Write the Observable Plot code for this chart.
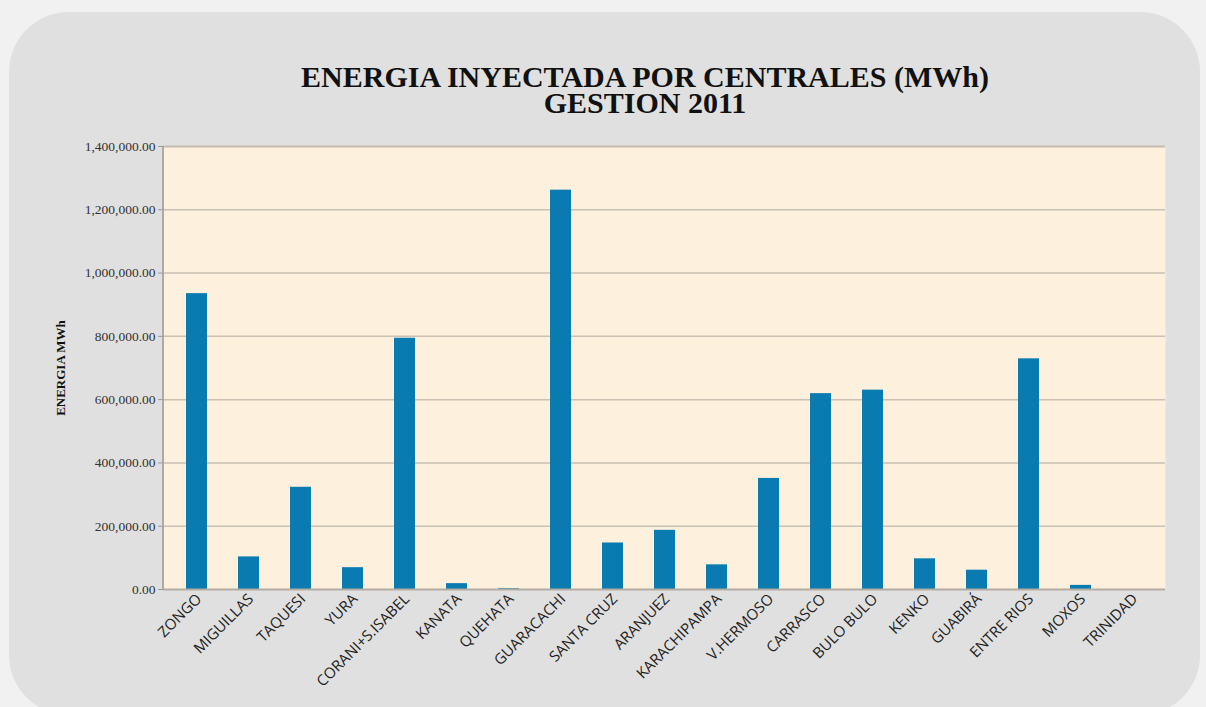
<!DOCTYPE html>
<html>
<head>
<meta charset="utf-8">
<script src="https://cdn.jsdelivr.net/npm/d3@7"></script>
<script src="https://cdn.jsdelivr.net/npm/@observablehq/plot@0.6"></script>
<style>
  html, body { margin: 0; padding: 0; }
  body { width: 1206px; height: 707px; overflow: hidden; background: #f1f1f1; position: relative; }
  #panel { position: absolute; left: 9px; top: 12px; width: 1191px; height: 703px; background: #e0e0e0; border-radius: 60px; }
  .title { position: absolute; left: 0; width: 1290px; text-align: center; white-space: nowrap; height: 26px;
           font-family: "Liberation Serif", serif; font-weight: bold; font-size: 30px; line-height: 26px; color: #111; }
  #chart { position: absolute; left: 0; top: 130px; }
</style>
</head>
<body>
<div id="panel"></div>
<div class="title" style="top:64px">ENERGIA INYECTADA POR CENTRALES (MWh)</div>
<div class="title" style="top:90px">GESTION 2011</div>
<div id="chart"></div>
<script>
const centrales = ["ZONGO","MIGUILLAS","TAQUESI","YURA","CORANI+S.ISABEL","KANATA","QUEHATA","GUARACACHI","SANTA CRUZ","ARANJUEZ","KARACHIPAMPA","V.HERMOSO","CARRASCO","BULO BULO","KENKO","GUABIRÁ","ENTRE RIOS","MOXOS","TRINIDAD"];
const energiaMWh = [935000, 103000, 323000, 69000, 794000, 18500, 2500, 1262000, 147000, 187000, 78000, 351000, 619000, 630000, 97000, 61000, 729000, 13000, 0];
const yTicks = [0, 200000, 400000, 600000, 800000, 1000000, 1200000, 1400000];
const yLabel = "ENERGIA MWh";

const data = centrales.map((c, i) => ({central: c, energia: energiaMWh[i]}));

function leftBorder(index, scales, values, dims) {
  const x = dims.marginLeft;
  return d3.create("svg:line")
    .attr("x1", x).attr("x2", x)
    .attr("y1", scales.y(0)).attr("y2", scales.y(1400000))
    .attr("stroke", "#aaaaaa").attr("stroke-width", 2).node();
}

const chart = Plot.plot({
  width: 1206,
  height: 577,
  marginLeft: 163,
  marginRight: 41,
  marginTop: 16,
  marginBottom: 118,
  style: {background: "transparent", color: "#333"},
  x: {domain: centrales, paddingInner: 0.6, paddingOuter: 0.3, label: null},
  y: {domain: [0, 1400000], label: null},
  marks: [
    Plot.frame({fill: "#fdf0dc", stroke: "none"}),
    Plot.ruleY(yTicks.filter(d => d > 0 && d < 1400000), {stroke: "#c9c1b3", strokeWidth: 1.5}),
    Plot.ruleY([1400000], {stroke: "#c3bcb0", strokeWidth: 2}),
    Plot.barY(data, {x: "central", y: "energia", fill: "#0a7bb1"}),
    Plot.ruleY([0], {stroke: "#b3aca2", strokeWidth: 2}),
    leftBorder,
    Plot.axisY({ticks: yTicks, tickSize: 5, tickPadding: 3, tickFormat: d3.format(",.2f"),
                fontSize: 13.5, fontFamily: "Liberation Serif", label: null, stroke: "#999"}),
    Plot.axisX({tickRotate: -45, tickSize: 0, tickPadding: 7, fontSize: 15, fontFamily: "Open Sans",
                label: null, fill: "#222", dx: 2}),
    Plot.text([yLabel], {frameAnchor: "left", rotate: -90, dx: -103, textAnchor: "middle", fontSize: 13,
                fontWeight: "bold", fontFamily: "Liberation Serif", fill: "#111"})
  ]
});
document.getElementById("chart").appendChild(chart);
</script>
</body>
</html>
